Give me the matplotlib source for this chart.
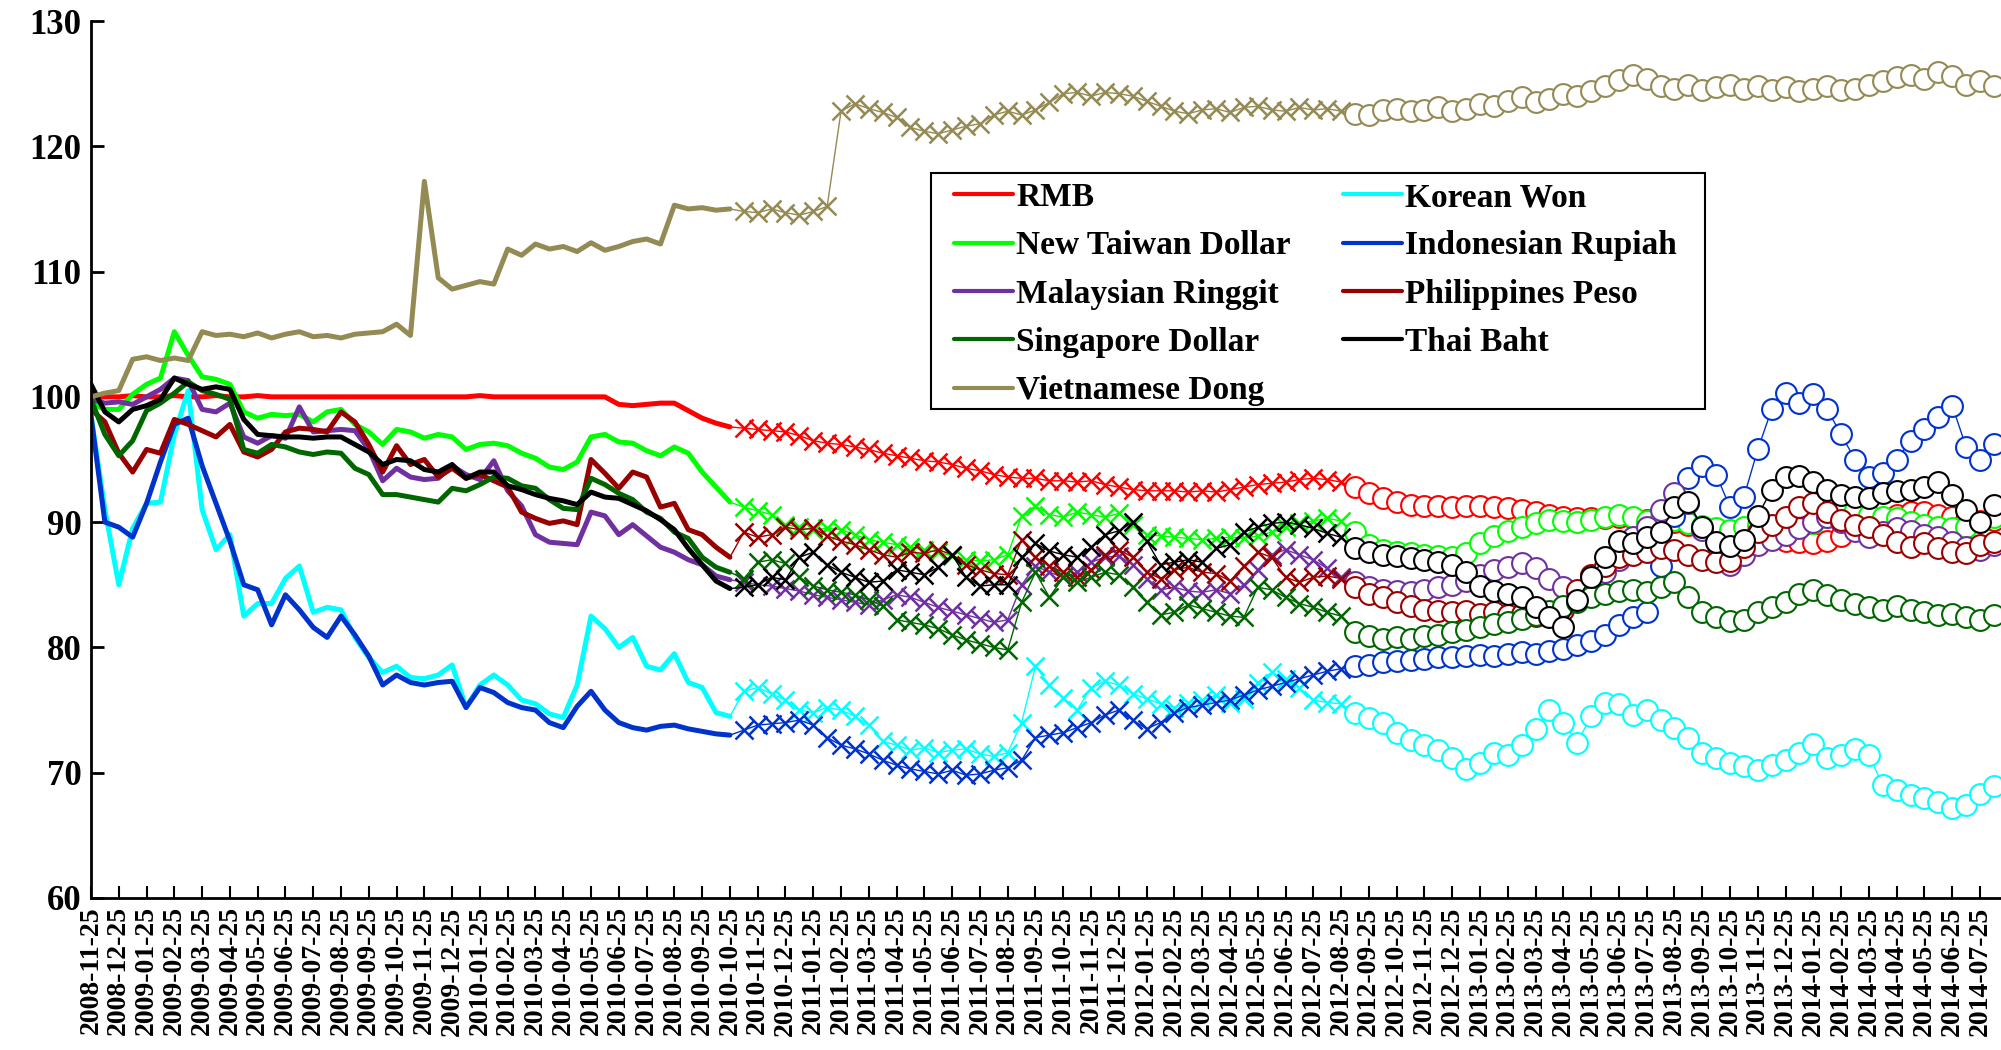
"""
Asian currencies against the US dollar, index 2008-11-25 = 100
"""
import numpy as np
import pandas as pd
import matplotlib

matplotlib.use("Agg")
import matplotlib.pyplot as plt
from matplotlib.lines import Line2D
from matplotlib.patches import Rectangle

plt.rcParams['font.family'] = ['Liberation Serif', 'DejaVu Serif']
plt.rcParams['font.weight'] = 'bold'

# values every half month, from 2008-11-25 on
rmb = [99.9, 100.0, 100.0, 100.1, 100.0, 100.0, 100.1, 100.0, 100.0, 100.1,
       100.0, 100.0, 100.1, 100.0, 100.0, 100.0, 100.0, 100.0, 100.0, 100.0,
       100.0, 100.0, 100.0, 100.0, 100.0, 100.0, 100.0, 100.0, 100.1, 100.0,
       100.0, 100.0, 100.0, 100.0, 100.0, 100.0, 100.0, 100.0, 99.4, 99.3,
       99.4, 99.5, 99.5, 98.9, 98.3, 97.9, 97.6, 97.5, 97.4, 97.3,
       97.2, 96.9, 96.5, 96.3, 96.2, 96.0, 95.8, 95.5, 95.3, 95.1,
       94.9, 94.8, 94.6, 94.3, 94.1, 93.8, 93.6, 93.5, 93.5, 93.3,
       93.3, 93.2, 93.3, 93.0, 92.8, 92.6, 92.5, 92.5, 92.5, 92.4,
       92.5, 92.4, 92.6, 92.8, 93.0, 93.1, 93.2, 93.4, 93.5, 93.4,
       93.2, 92.8, 92.3, 91.9, 91.6, 91.4, 91.3, 91.3, 91.2, 91.3,
       91.3, 91.2, 91.1, 91.0, 90.8, 90.6, 90.4, 90.3, 90.3, 90.3,
       90.4, 90.3, 90.2, 90.1, 90.0, 89.8, 89.6, 89.4, 89.2, 89.0,
       88.9, 88.7, 88.5, 88.4, 88.3, 88.5, 88.9, 89.4, 89.9, 90.3,
       90.6, 90.8, 90.8, 90.6, 90.4, 90.2, 90.1, 90.2]
krw = [98.5, 91.0, 85.0, 89.5, 91.5, 91.6, 97.0, 100.5, 91.0, 87.8,
       89.0, 82.5, 83.5, 83.5, 85.5, 86.5, 82.8, 83.2, 83.0, 80.8,
       79.2, 78.0, 78.5, 77.6, 77.5, 77.8, 78.6, 75.2, 77.0, 77.8,
       77.0, 75.8, 75.5, 74.7, 74.4, 77.0, 82.5, 81.5, 80.0, 80.8,
       78.5, 78.2, 79.5, 77.2, 76.8, 74.8, 74.5, 76.5, 76.8, 76.3,
       75.8, 75.0, 74.8, 75.2, 75.0, 74.5, 73.8, 72.5, 72.2, 71.8,
       72.0, 71.6, 71.8, 71.9, 71.5, 71.3, 71.6, 74.0, 78.5, 77.0,
       76.0, 75.0, 76.8, 77.3, 77.0, 76.3, 75.9, 75.5, 75.2, 75.6,
       75.8, 76.2, 75.6, 75.9, 77.2, 78.0, 77.5, 76.8, 75.8, 75.6,
       75.5, 74.8, 74.4, 74.0, 73.2, 72.6, 72.2, 71.8, 71.2, 70.3,
       70.8, 71.6, 71.4, 72.2, 73.5, 75.0, 74.0, 72.4, 74.5, 75.6,
       75.5, 74.6, 75.0, 74.2, 73.6, 72.8, 71.6, 71.2, 70.8, 70.5,
       70.2, 70.6, 71.0, 71.6, 72.3, 71.2, 71.4, 71.9, 71.4, 69.0,
       68.6, 68.2, 68.0, 67.7, 67.2, 67.4, 68.3, 68.9]
ntd = [99.5, 99.0, 99.0, 100.2, 101.0, 101.5, 105.2, 103.3, 101.6, 101.4,
       101.0, 98.8, 98.3, 98.6, 98.5, 98.6, 98.0, 98.8, 99.0, 97.8,
       97.2, 96.2, 97.4, 97.2, 96.7, 97.0, 96.8, 95.8, 96.2, 96.3,
       96.1, 95.5, 95.1, 94.4, 94.2, 94.8, 96.8, 97.0, 96.4, 96.3,
       95.7, 95.3, 96.0, 95.5, 94.0, 92.8, 91.6, 91.2, 90.9, 90.6,
       89.8, 89.6, 89.4, 89.5, 89.4, 89.0, 88.6, 88.4, 88.2, 88.0,
       87.8, 87.6, 87.3, 87.0, 86.9, 87.0, 87.4, 90.5, 91.3, 90.6,
       90.4, 90.8, 90.6, 90.4, 90.7, 89.8, 89.0, 88.9, 88.8, 88.7,
       88.6, 88.7, 88.8, 88.7, 88.9, 89.2, 89.6, 89.9, 90.1, 90.3,
       90.1, 89.2, 88.2, 87.8, 87.6, 87.5, 87.4, 87.3, 87.2, 87.5,
       88.3, 88.9, 89.3, 89.6, 89.9, 90.2, 90.1, 90.0, 90.2, 90.4,
       90.6, 90.4, 90.1, 90.3, 90.2, 89.9, 89.7, 89.5, 89.4, 89.6,
       89.8, 89.7, 89.8, 89.6, 89.9, 90.4, 90.8, 91.0, 90.6, 90.4,
       90.3, 90.0, 89.8, 89.6, 89.5, 89.6, 90.0, 90.4]
idr = [98.5, 90.0, 89.6, 88.8, 91.5, 94.8, 97.8, 98.3, 94.5, 91.5,
       88.5, 85.0, 84.6, 81.8, 84.2, 83.0, 81.6, 80.8, 82.5, 81.0,
       79.3, 77.0, 77.8, 77.2, 77.0, 77.2, 77.3, 75.2, 76.8, 76.4,
       75.6, 75.2, 75.0, 74.0, 73.6, 75.3, 76.5, 75.0, 74.0, 73.6,
       73.4, 73.7, 73.8, 73.5, 73.3, 73.1, 73.0, 73.4, 73.8, 73.9,
       74.0, 74.2, 73.8, 72.8, 72.2, 71.9, 71.5, 71.0, 70.6, 70.3,
       70.1, 69.9, 70.2, 69.8, 69.9, 70.2, 70.4, 71.0, 72.8, 73.0,
       73.2, 73.6, 74.0, 74.6, 75.0, 74.2, 73.5, 74.0, 74.8, 75.2,
       75.4, 75.6, 75.8, 76.2, 76.6, 76.9, 77.2, 77.5, 77.8, 78.1,
       78.3, 78.5, 78.6, 78.8, 78.9, 79.0, 79.1, 79.2, 79.2, 79.3,
       79.4, 79.3, 79.5, 79.6, 79.5, 79.7, 79.9, 80.2, 80.5, 81.0,
       81.8, 82.4, 82.8, 86.5, 90.5, 93.5, 94.5, 93.8, 91.2, 92.0,
       95.8, 99.0, 100.3, 99.5, 100.2, 99.0, 97.0, 95.0, 93.6, 93.9,
       95.0, 96.5, 97.4, 98.4, 99.3, 96.0, 95.0, 96.2]
myr = [99.8, 99.5, 99.6, 99.4, 100.0, 100.6, 101.5, 101.3, 99.0, 98.8,
       99.5, 96.8, 96.3, 96.9, 96.7, 99.2, 97.2, 97.3, 97.4, 97.3,
       95.8, 93.3, 94.3, 93.6, 93.4, 93.5, 94.5, 93.8, 93.4, 94.9,
       92.5, 91.3, 89.0, 88.4, 88.3, 88.2, 90.8, 90.5, 89.0, 89.8,
       88.9, 88.0, 87.6, 87.0, 86.6, 85.7, 85.4, 85.2, 85.0, 84.9,
       84.7, 84.5, 84.2, 84.0, 83.8, 83.6, 83.4, 83.8, 84.2, 84.0,
       83.6, 83.2, 82.9, 82.6, 82.3, 82.0, 82.2, 85.0, 86.5, 86.0,
       85.6, 86.0, 86.8, 87.2, 87.3, 86.6, 85.5, 84.6, 84.8, 84.5,
       84.4, 84.6, 84.3, 85.0, 86.2, 87.4, 87.8, 87.4, 87.0, 86.3,
       85.6, 85.2, 84.8, 84.6, 84.5, 84.4, 84.6, 84.8, 85.0, 85.3,
       85.8, 86.2, 86.4, 86.7, 86.3, 85.5, 84.8, 84.4, 84.6, 86.0,
       87.0, 88.8, 89.6, 91.0, 92.3, 91.5, 89.4, 87.2, 86.6, 87.4,
       88.2, 88.6, 89.0, 89.5, 90.0, 90.4, 90.0, 89.3, 88.8, 89.2,
       89.5, 89.3, 89.0, 88.8, 88.4, 88.0, 87.8, 88.2]
php = [99.0, 98.0, 95.5, 94.0, 95.8, 95.5, 98.2, 97.8, 97.3, 96.8,
       97.8, 95.6, 95.2, 95.8, 97.2, 97.5, 97.4, 97.2, 98.8, 98.0,
       96.2, 94.0, 96.1, 94.6, 95.0, 93.6, 94.3, 93.5, 93.8, 93.3,
       92.8, 90.8, 90.3, 89.9, 90.1, 89.8, 95.0, 93.9, 92.7, 94.0,
       93.6, 91.2, 91.5, 89.4, 89.0, 88.0, 87.2, 89.2, 88.8, 89.0,
       89.6, 89.4, 89.5, 88.9, 88.5, 88.2, 87.8, 87.4, 87.2, 87.6,
       87.5, 87.8, 87.4, 86.6, 86.2, 85.9, 85.8, 88.6, 87.2, 86.5,
       86.0, 85.6, 86.2, 87.4, 87.8, 87.2, 86.0, 85.5, 86.2, 86.4,
       86.0, 85.9, 85.3, 86.5, 87.6, 87.2, 85.6, 85.2, 85.6, 85.7,
       85.5, 84.8, 84.3, 84.0, 83.6, 83.3, 83.0, 82.9, 82.8, 82.9,
       82.7, 82.8, 82.6, 82.7, 82.5, 82.6, 83.0, 84.6, 85.8, 86.5,
       87.2, 87.4, 87.6, 87.9, 87.8, 87.4, 87.0, 86.8, 86.9, 88.0,
       89.2, 89.8, 90.4, 91.2, 91.5, 90.8, 90.2, 89.8, 89.6, 89.0,
       88.4, 88.0, 88.3, 87.9, 87.6, 87.5, 88.2, 88.4]
sgd = [99.8, 97.0, 95.3, 96.5, 98.9, 99.5, 100.3, 101.2, 100.5, 100.2,
       99.8, 95.8, 95.5, 96.2, 96.0, 95.6, 95.4, 95.6, 95.5, 94.3,
       93.8, 92.2, 92.2, 92.0, 91.8, 91.6, 92.7, 92.5, 93.0, 93.6,
       93.5, 92.9, 92.7, 91.8, 91.1, 91.0, 93.5, 93.0, 92.3, 91.8,
       90.8, 90.3, 89.2, 88.7, 87.2, 86.4, 86.0, 85.5, 86.8, 87.0,
       86.7, 85.6, 84.9, 84.6, 84.4, 84.2, 83.8, 83.3, 82.2, 82.0,
       81.8, 81.5, 81.0, 80.6, 80.3, 80.0, 79.8, 83.6, 86.0, 84.0,
       85.6, 85.2, 85.6, 86.0, 85.8, 84.8, 83.6, 82.6, 82.8, 83.4,
       83.1, 82.8, 82.5, 82.4, 84.8, 84.6, 84.0, 83.5, 83.2, 82.8,
       82.5, 81.2, 80.9, 80.7, 80.8, 80.7, 80.9, 81.0, 81.2, 81.4,
       81.6, 81.9, 82.0, 82.3, 82.6, 82.9, 83.3, 83.6, 84.0, 84.3,
       84.5, 84.6, 84.4, 84.8, 85.2, 84.0, 82.8, 82.4, 82.1, 82.2,
       82.8, 83.2, 83.6, 84.3, 84.6, 84.2, 83.8, 83.5, 83.2, 83.0,
       83.3, 83.0, 82.8, 82.6, 82.7, 82.4, 82.2, 82.6]
thb = [101.0, 98.8, 98.0, 99.0, 99.3, 99.8, 101.5, 101.0, 100.6, 100.8,
       100.6, 98.2, 97.0, 96.9, 96.8, 96.8, 96.7, 96.8, 96.8, 96.2,
       95.6, 94.6, 95.0, 94.9, 94.2, 94.0, 94.6, 93.5, 94.0, 94.0,
       92.9, 92.6, 92.2, 91.9, 91.7, 91.4, 92.4, 92.0, 91.9, 91.4,
       90.9, 90.2, 89.4, 87.9, 86.6, 85.3, 84.7, 84.8, 85.0, 85.6,
       85.4, 87.2, 87.6, 86.6, 86.0, 85.6, 85.2, 85.3, 86.2, 86.0,
       85.8, 86.4, 87.4, 85.6, 84.9, 85.0, 85.0, 87.2, 88.3, 87.7,
       87.4, 87.2, 88.0, 89.0, 89.3, 90.0, 88.5, 86.6, 86.8, 87.0,
       86.8, 87.9, 88.2, 89.2, 89.6, 89.9, 90.0, 89.8, 89.5, 89.1,
       88.8, 87.9, 87.6, 87.4, 87.3, 87.1, 87.0, 86.8, 86.6, 86.0,
       84.9, 84.5, 84.3, 84.0, 83.2, 82.4, 81.6, 83.8, 85.6, 87.2,
       88.5, 88.3, 88.8, 89.2, 91.2, 91.6, 89.6, 88.4, 88.1, 88.6,
       90.5, 92.6, 93.6, 93.7, 93.2, 92.6, 92.2, 92.0, 91.9, 92.3,
       92.5, 92.6, 92.8, 93.2, 92.2, 91.0, 90.0, 91.4]
vnd = [100.0, 100.3, 100.5, 103.0, 103.2, 102.9, 103.1, 102.9, 105.2, 104.9,
       105.0, 104.8, 105.1, 104.7, 105.0, 105.2, 104.8, 104.9, 104.7, 105.0,
       105.1, 105.2, 105.8, 104.9, 117.2, 109.5, 108.6, 108.9, 109.2, 109.0,
       111.8, 111.3, 112.2, 111.8, 112.0, 111.6, 112.3, 111.7, 112.0, 112.4,
       112.6, 112.2, 115.3, 115.0, 115.1, 114.9, 115.0, 114.8, 114.7, 115.0,
       114.7, 114.5, 114.8, 115.2, 122.8, 123.4, 123.0, 122.7, 122.3, 121.5,
       121.2, 121.0, 121.3, 121.6, 121.8, 122.5, 122.8, 122.5, 122.9, 123.5,
       124.2, 124.3, 124.0, 124.3, 124.2, 124.0, 123.6, 123.2, 122.8, 122.6,
       122.9, 123.0, 122.7, 123.1, 123.2, 122.9, 122.8, 123.1, 122.9, 123.0,
       122.8, 122.6, 122.5, 122.9, 123.0, 122.8, 122.9, 123.1, 122.8, 123.0,
       123.4, 123.2, 123.6, 123.9, 123.5, 123.8, 124.2, 124.0, 124.4, 124.8,
       125.3, 125.7, 125.4, 124.8, 124.6, 124.9, 124.5, 124.7, 124.9, 124.6,
       124.8, 124.5, 124.7, 124.4, 124.6, 124.8, 124.5, 124.6, 124.9, 125.2,
       125.5, 125.7, 125.4, 125.9, 125.6, 124.9, 125.2, 124.8]

names = ['RMB', 'Korean Won', 'New Taiwan Dollar', 'Indonesian Rupiah', 'Malaysian Ringgit',
         'Philippines Peso', 'Singapore Dollar', 'Thai Baht', 'Vietnamese Dong']
series = [rmb, krw, ntd, idr, myr, php, sgd, thb, vnd]
colors = ['#FF0000', '#00FFFF', '#00FF00', '#0033CC', '#7030A0',
          '#990000', '#006600', '#000000', '#948A54']

tick_labels = pd.date_range('2008-11-25', periods=69,
                            freq=pd.DateOffset(months=1)).strftime('%Y-%m-%d')

for s in series:
    assert len(s) == 138, len(s)

x = np.arange(138) * 0.5  # months after 2008-11-25
cut1, cut2 = 46, 90       # line -> 'x' markers -> 'o' markers

fig = plt.figure(figsize=(20.01, 10.5), dpi=100)
ax = fig.add_axes([91 / 2001, 152 / 1050, 1909 / 2001, 877 / 1050])

for y, c in zip(series, colors):
    y = np.asarray(y)
    ax.plot(x[:cut1 + 1], y[:cut1 + 1], color=c, lw=3.6,
            solid_joinstyle='round', solid_capstyle='round')
    ax.plot(x[cut1:cut2 + 1], y[cut1:cut2 + 1], color=c, lw=1.0,
            marker='x', ms=13, mew=1.8, markevery=slice(1, None))
    ax.plot(x[cut2:], y[cut2:], color=c, lw=1.0, marker='o', ms=15, mew=1.5,
            mfc='white', markevery=slice(1, None))

ax.set_xlim(0, 68.72)
ax.set_ylim(60, 130)
ax.set_yticks(range(60, 131, 10))
ax.set_xticks(range(69))
ax.set_xticklabels(tick_labels, rotation=90, fontsize=20, fontweight='bold')
for lab in ax.get_yticklabels():
    lab.set_fontsize(25)
    lab.set_fontweight('bold')
ax.tick_params(axis='y', direction='in', length=9, width=2, pad=7)
ax.tick_params(axis='x', direction='in', length=9, width=1.5, pad=6)
for side in ['top', 'right']:
    ax.spines[side].set_visible(False)
for side in ['left', 'bottom']:
    ax.spines[side].set_linewidth(2)

# legend box drawn on its own, entries laid out inside it
ax.add_patch(Rectangle((0.440, 0.5576), 0.4055, 0.2691, transform=ax.transAxes,
                       facecolor='white', edgecolor='black', lw=1.5, zorder=4))
order = [0, 2, 4, 6, 8, 1, 3, 5, 7]
handles = [Line2D([], [], color=colors[i], lw=3.0, solid_capstyle='round') for i in order]
leg = ax.legend(handles, [names[i] for i in order], ncol=2, loc='upper left',
                bbox_to_anchor=(0.452, 0.8164, 0.3788, 0.0), mode='expand',
                prop={'family': 'Liberation Serif', 'weight': 'bold', 'size': 24},
                frameon=False, handlelength=1.77, handletextpad=0.1,
                labelspacing=0.52, borderpad=0, borderaxespad=0)
leg.set_zorder(5)

plt.savefig('out.png', dpi=100)
